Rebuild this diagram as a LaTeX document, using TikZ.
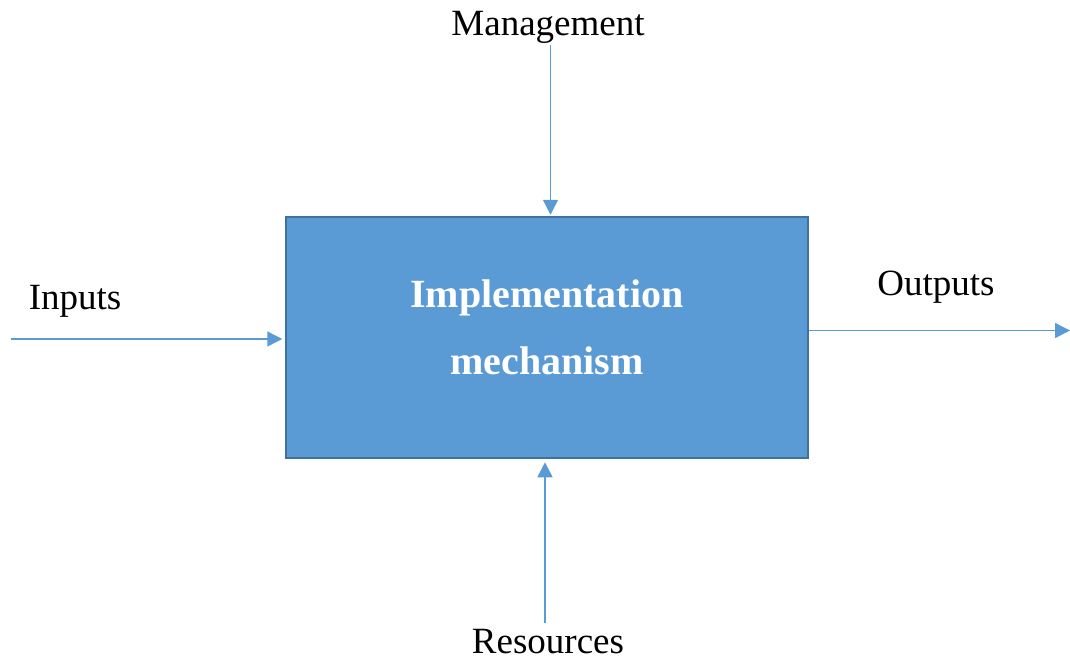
\documentclass[tikz,border=0pt]{standalone}
\usepackage{fontspec}
\setmainfont{Liberation Serif}
\usetikzlibrary{arrows.meta}
\definecolor{boxfill}{HTML}{5B9BD5}
\definecolor{boxline}{HTML}{41719C}
\definecolor{arrowblue}{HTML}{5B9BD5}
\begin{document}
\begin{tikzpicture}[x=1pt,y=-1pt,
  mechbox/.style={draw=boxline,fill=boxfill,line width=2.5pt,rectangle,
    minimum width=522pt,minimum height=241pt,inner sep=0pt},
  boxtext/.style={text=white,font=\fontsize{40}{48}\selectfont\bfseries,anchor=base,inner sep=0pt},
  label/.style={font=\fontsize{37}{44}\selectfont,anchor=base,inner sep=0pt},
  arr/.style={draw=arrowblue,line width=1.5pt,-{Triangle[length=15pt,width=15pt]},arrowblue}]
  \useasboundingbox[fill=white] (0,0) rectangle (1070,659);

  % central mechanism box
  \node[mechbox] (box) at (547,337.5) {};
  \node[boxtext] (impl1) at (547,307) {Implementation};
  \node[boxtext] (impl2) at (547,374) {mechanism};

  % surrounding labels
  \node[label] (mgmt) at (548,35) {Management};
  \node[label] (inputs) at (75,309) {Inputs};
  \node[label] (outputs) at (936,295) {Outputs};
  \node[label] (res) at (548,653) {Resources};

  % free ends of the connectors
  \coordinate (mtop) at (550.5,45);
  \coordinate (inleft) at (11,339);
  \coordinate (outright) at (1070,330.5);
  \coordinate (rbot) at (545,623);

  % connectors
  \draw[arr,shorten >=1pt] (mtop) -- (mtop |- box.north);
  \draw[arr,shorten >=2.5pt] (inleft) -- (inleft -| box.west);
  \draw[arr] (outright -| box.east) -- (outright);
  \draw[arr,shorten >=3pt] (rbot) -- (rbot |- box.south);
\end{tikzpicture}
\end{document}
